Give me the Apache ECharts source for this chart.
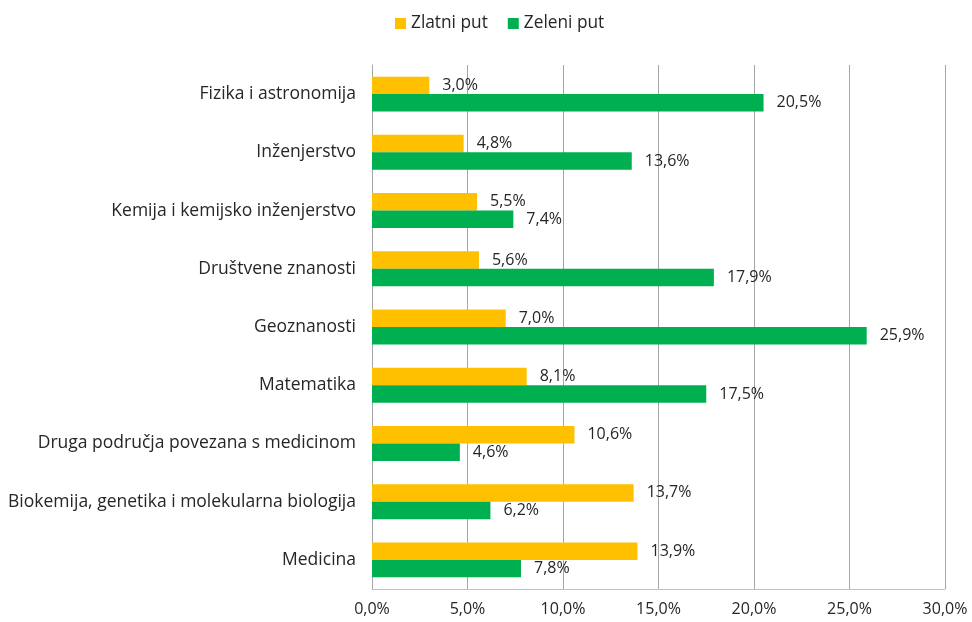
<!DOCTYPE html>
<html><head><meta charset="utf-8">
<script src="https://cdn.jsdelivr.net/npm/echarts@6/dist/echarts.min.js"></script>
<style>html,body{margin:0;padding:0;background:#fff}#c{width:972px;height:622px}</style>
</head><body><div id="c"></div>
<script>
const categories = ["Fizika i astronomija","Inženjerstvo","Kemija i kemijsko inženjerstvo","Društvene znanosti","Geoznanosti","Matematika","Druga područja povezana s medicinom","Biokemija, genetika i molekularna biologija","Medicina"];
const zlatni = [3.0,4.8,5.5,5.6,7.0,8.1,10.6,13.7,13.9];
const zeleni = [20.5,13.6,7.4,17.9,25.9,17.5,4.6,6.2,7.8];
const xTicks = [0,5,10,15,20,25,30];
const fmt = v => v.toFixed(1).replace('.', ',') + '%';
const font = "'Open Sans', 'Noto Sans', sans-serif";
const chart = echarts.init(document.getElementById('c'));
const lbl = {show:true, position:'right', distance:13, color:'#262626', fontSize:16, fontFamily:font, formatter:p=>fmt(p.value)};
chart.setOption({
  animation:false,
  legend:{top:10, left:390, itemWidth:11, itemHeight:11, itemGap:20, icon:'rect',
    textStyle:{fontSize:17.3, fontFamily:font, color:'#262626'}, data:['Zlatni put','Zeleni put']},
  grid:{left:372, right:27, top:65, bottom:33, containLabel:false},
  xAxis:{type:'value', min:0, max:30, interval:5,
    axisLine:{show:true, lineStyle:{color:'#bfbfbf'}}, axisTick:{show:false},
    splitLine:{show:true, lineStyle:{color:'#a6a6a6'}},
    axisLabel:{formatter:v=>fmt(v), fontSize:16, fontFamily:font, color:'#262626', margin:12}},
  yAxis:{type:'category', data:categories, inverse:true,
    axisLine:{show:true, lineStyle:{color:'#a6a6a6'}}, axisTick:{show:false},
    axisLabel:{fontSize:17.5, fontFamily:font, color:'#262626', margin:16}},
  series:[
    {name:'Zlatni put', type:'bar', data:zlatni, itemStyle:{color:'#FFC000'}, barGap:'0%', barCategoryGap:'40%', label:lbl},
    {name:'Zeleni put', type:'bar', data:zeleni, itemStyle:{color:'#00B050'}, barGap:'0%', barCategoryGap:'40%', label:lbl}
  ]
});
</script></body></html>
